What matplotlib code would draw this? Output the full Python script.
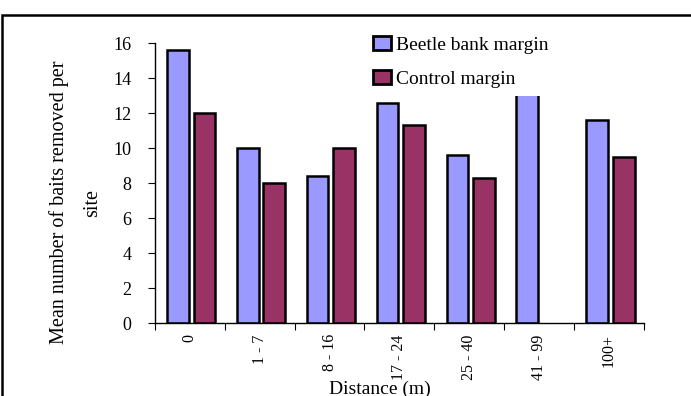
import numpy as np
import matplotlib.pyplot as plt
from matplotlib.patches import Rectangle

# Données
categories = ["0", "1 - 7", "8 - 16", "17 - 24", "25 - 40", "41 - 99", "100+"]
beetle_bank = [15.6, 10.0, 8.4, 12.6, 9.6, 13.5, 11.6]
control = [12.0, 8.0, 10.0, 11.3, 8.3, np.nan, 9.5]

plt.rcParams['font.family'] = ['Liberation Serif', 'DejaVu Serif']

fig = plt.figure(figsize=(6.91, 3.96), dpi=100)
ax = fig.add_axes([0.224, 0.184, 0.708, 0.707])

x = np.arange(len(categories))
w = 0.31
ax.bar(x - 0.17, beetle_bank, w, color='#9999FF', edgecolor='black',
       linewidth=1.8, label='Beetle bank margin')
ax.bar(x + 0.21, control, w, color='#993366', edgecolor='black',
       linewidth=1.8, label='Control margin')

ax.set_xlim(-0.5, len(categories) - 0.5)
ax.set_ylim(0, 16)
ax.set_yticks(np.arange(0, 17, 2))
ax.tick_params(axis='y', direction='out', length=5, labelsize=13, pad=12)

# graduations aux limites des catégories, étiquettes au centre
ax.set_xticks(np.arange(-0.5, len(categories)), labels=[])
ax.set_xticks(x, labels=categories, minor=True, rotation=90, va='top')
ax.tick_params(axis='x', which='major', direction='out', length=5)
ax.tick_params(axis='x', which='minor', length=0, labelsize=11.5, pad=8)

for s in ['top', 'right']:
    ax.spines[s].set_visible(False)
ax.spines['left'].set_linewidth(1.0)
ax.spines['bottom'].set_linewidth(1.0)

ax.set_ylabel("Mean number of baits removed per\nsite", fontsize=14.5,
              linespacing=2.0)
ax.yaxis.set_label_coords(-0.108, 0.43)
ax.set_xlabel("Distance (m)", fontsize=14, va='top')
ax.xaxis.set_label_coords(0.46, -0.205)

leg = fig.legend(loc='upper left',
                 bbox_to_anchor=(365 / 691, 0, 250 / 691, 1 - 28 / 396),
                 mode='expand', frameon=True, facecolor='white',
                 edgecolor='none', framealpha=1, fancybox=False, fontsize=14,
                 handlelength=0.9, handleheight=0.68, handletextpad=0.25,
                 labelspacing=0.85, borderpad=0.42, borderaxespad=0)
for h in leg.legend_handles:
    h.set_linewidth(2.0)

# cadre noir (coupé en bas et à droite)
fig.add_artist(Rectangle((0.003, -0.1), 1.1, 1 - 15 / 396 + 0.1,
                         transform=fig.transFigure, fill=False,
                         linewidth=1.8, edgecolor='black'))

fig.savefig("out.png", dpi=100)
